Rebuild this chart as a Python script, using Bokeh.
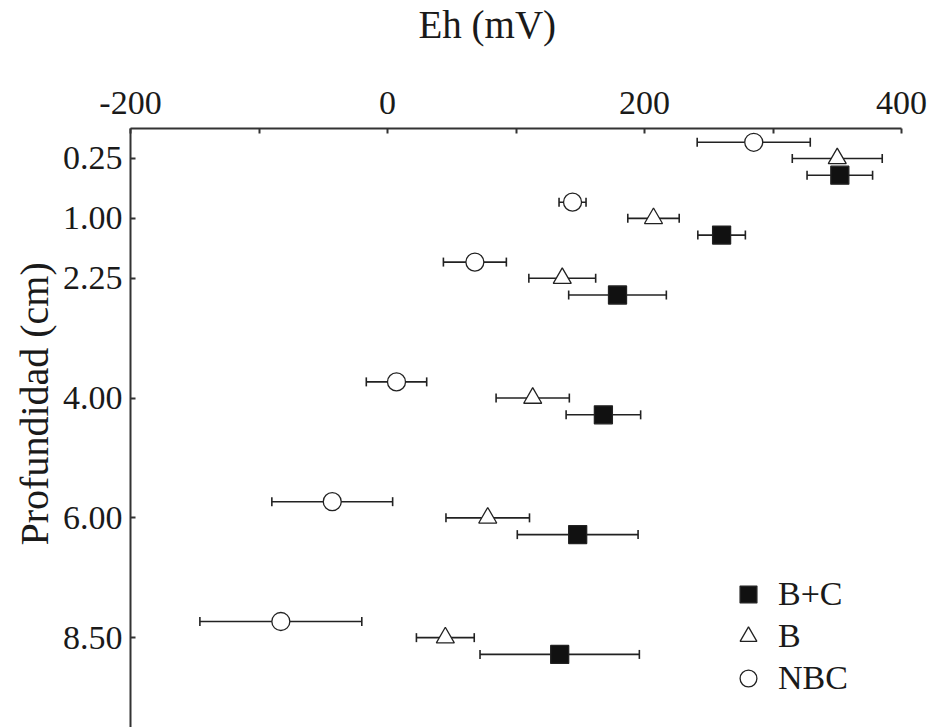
from bokeh.plotting import figure
from bokeh.models import (Range1d, FixedTicker, Whisker, TeeHead, ColumnDataSource,
                          Legend, LegendItem, Title, LinearAxis)
from bokeh.embed import file_html
from bokeh.resources import INLINE

# ---- data ----
depth_labels = ["0.25", "1.00", "2.25", "4.00", "6.00", "8.50"]
depth_pos = [1, 2, 3, 5, 7, 9]          # position of each depth on the (non-linear) axis

x_ticks = [-200, 0, 200, 400]
x_tick_labels = ["-200", "0", "200", "400"]

nbc_eh = [285, 144, 68, 7, -43, -83]
nbc_err = [44, 10.5, 24.5, 23.5, 47, 63]

b_eh = [350, 207, 136, 113, 78, 45]
b_err = [35, 20, 26, 28.5, 32.5, 22.5]

bc_eh = [352, 260, 179, 168, 148, 134]
bc_err = [25.5, 18.5, 38, 29, 47, 62]

series_offset = {"NBC": -0.27, "B": 0.0, "B+C": 0.28}

FONT = "Liberation Serif"
INK = "#1a1a1a"

p = figure(width=930, height=727, output_backend="svg", toolbar_location=None,
           x_axis_location="above", x_range=Range1d(-200, 400),
           y_range=Range1d(10.5, 0.5),
           min_border_left=130, min_border_right=29, min_border_top=0,
           min_border_bottom=0)
p.outline_line_color = None
p.grid.grid_line_color = None
p.background_fill_color = "white"
p.border_fill_color = "white"

# x title (top)
p.title.text = "Eh (mV)"
p.title.text_font = FONT
p.title.text_font_size = "39px"
p.title.text_font_style = "normal"
p.title.align = "left"
p.title.offset = 288
p.title.standoff = 0
p.title.text_color = INK

# y "axis label" as a left title so it can be shifted along the axis
ytitle = Title(text="Profundidad (cm)", align="left", offset=182,
               text_font=FONT, text_font_size="40px", text_font_style="normal",
               text_color=INK, standoff=6)
p.add_layout(ytitle, "left")

# x axis (top)
xa = p.xaxis[0]
xa.ticker = FixedTicker(ticks=x_ticks, minor_ticks=[-100, 100, 300])
xa.major_label_overrides = {t: l for t, l in zip(x_ticks, x_tick_labels)}
xa.major_label_text_font = FONT
xa.major_label_text_font_size = "34px"
xa.major_label_text_color = INK
xa.major_label_standoff = 15
xa.axis_line_width = 2
xa.axis_line_color = "#333333"
xa.major_tick_in = 5
xa.major_tick_out = 0
xa.minor_tick_in = 5
xa.minor_tick_out = 0
xa.major_tick_line_width = 2
xa.minor_tick_line_width = 2
xa.major_tick_line_color = "#333333"
xa.minor_tick_line_color = "#333333"

# blank spacer panel between the tick labels and the title
spacer = LinearAxis(ticker=FixedTicker(ticks=[-100], minor_ticks=[]),
                    major_label_overrides={-100: ""},
                    axis_line_color=None,
                    major_tick_line_color="white", minor_tick_line_color=None,
                    major_tick_in=0, major_tick_out=43, minor_tick_in=0, minor_tick_out=0,
                    major_label_standoff=0, major_label_text_font_size="1px")
p.add_layout(spacer, "above")

# y axis (left)
ya = p.yaxis[0]
ya.ticker = FixedTicker(ticks=depth_pos)
ya.major_label_overrides = {pos: lab for pos, lab in zip(depth_pos, depth_labels)}
ya.major_label_text_font = FONT
ya.major_label_text_font_size = "34px"
ya.major_label_text_color = INK
ya.major_label_standoff = 8
ya.axis_line_width = 2
ya.axis_line_color = "#333333"
ya.major_tick_in = 5
ya.major_tick_out = 0
ya.minor_tick_line_color = None
ya.major_tick_line_width = 2
ya.major_tick_line_color = "#333333"


def add_series(name, vals, errs, marker, fill):
    off = series_offset[name]
    src = ColumnDataSource(dict(
        x=vals,
        y=[d + off for d in depth_pos],
        lo=[v - e for v, e in zip(vals, errs)],
        hi=[v + e for v, e in zip(vals, errs)],
    ))
    w = Whisker(source=src, base="y", lower="lo", upper="hi", dimension="width",
                line_color="#222222", line_width=1.6,
                lower_head=TeeHead(size=9, line_color="#222222", line_width=1.6),
                upper_head=TeeHead(size=9, line_color="#222222", line_width=1.6))
    p.add_layout(w)
    r = p.scatter("x", "y", source=src, marker=marker, size=18,
                  fill_color=fill, line_color="#222222", line_width=1.3)
    return r


r_nbc = add_series("NBC", nbc_eh, nbc_err, "circle", "white")
r_b = add_series("B", b_eh, b_err, "triangle", "white")
r_bc = add_series("B+C", bc_eh, bc_err, "square", "#111111")

legend = Legend(items=[LegendItem(label="B+C", renderers=[r_bc]),
                       LegendItem(label="B", renderers=[r_b]),
                       LegendItem(label="NBC", renderers=[r_nbc])],
                location=(597, 28), orientation="vertical",
                padding=0, margin=0, spacing=0,
                glyph_height=42, glyph_width=42, label_height=42,
                label_standoff=9,
                label_text_font=FONT, label_text_font_size="34px",
                label_text_color=INK,
                border_line_color=None, background_fill_alpha=0)
p.add_layout(legend)

open("out.html", "w").write(file_html(p, INLINE))
